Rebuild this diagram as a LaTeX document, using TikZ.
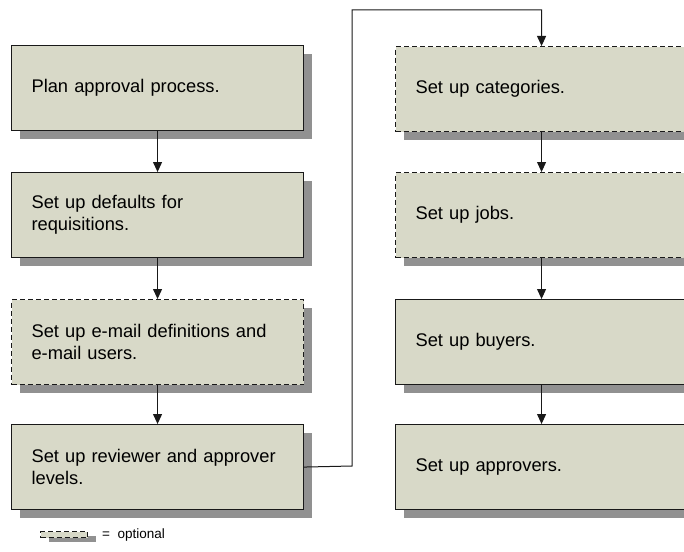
\documentclass[tikz,border=0pt]{standalone}
\usepackage{fontspec}
\setmainfont{Liberation Sans}
\usetikzlibrary{shadows,arrows.meta}
\definecolor{boxfill}{RGB}{216,217,200}
\definecolor{shadowgray}{RGB}{145,145,145}
\definecolor{edgecol}{RGB}{25,25,25}
\tikzset{
  stepbox/.style={draw=edgecol, line width=1.1pt, fill=boxfill,
    drop shadow={shadow xshift=8pt, shadow yshift=-8pt, fill=shadowgray, opacity=1},
    minimum width=292pt, minimum height=85pt, text width=252pt, align=left,
    inner sep=0pt, anchor=north west,
    font=\fontsize{18.3}{22}\selectfont},
  optional/.style={dash pattern=on 5pt off 3pt},
  conn/.style={draw=edgecol, line width=1pt, -{Triangle[length=10pt,width=9pt]}},
}
\begin{document}
\begin{tikzpicture}[x=1pt,y=-1pt]
\path[use as bounding box] (0,0) rectangle (684,551);
\clip (0,0) rectangle (684,551);
\node[stepbox] (plan) at (11,45) {Plan approval process.};
\node[stepbox] (defaults) at (11,172) {Set up defaults for\\requisitions.};
\node[stepbox,optional] (email) at (11,299) {Set up e-mail definitions and\\e-mail users.};
\node[stepbox] (levels) at (11,424) {Set up reviewer and approver\\levels.};
\node[stepbox,optional] (cats) at (395,46) {Set up categories.};
\node[stepbox,optional] (jobs) at (395,172) {Set up jobs.};
\node[stepbox] (buyers) at (395,299) {Set up buyers.};
\node[stepbox] (approvers) at (395,424) {Set up approvers.};
\draw[conn] (plan) -- (defaults);
\draw[conn] (defaults) -- (email);
\draw[conn] (email) -- (levels);
\draw[conn] (levels.east) -- (352,466) -- (352,10) -| (cats.north);
\draw[conn] (cats) -- (jobs);
\draw[conn] (jobs) -- (buyers);
\draw[conn] (buyers) -- (approvers);
\node[draw=edgecol, line width=1.1pt, fill=boxfill, optional, anchor=north west,
  minimum width=47pt, minimum height=6pt, inner sep=0pt,
  drop shadow={shadow xshift=8pt, shadow yshift=-4pt, fill=shadowgray, opacity=1}] (legbox) at (40,531) {};
\node[anchor=west, inner sep=0pt, font=\fontsize{13.5}{16}\selectfont] (legtext) at (102,535) {=\ \ optional};
\end{tikzpicture}
\end{document}
